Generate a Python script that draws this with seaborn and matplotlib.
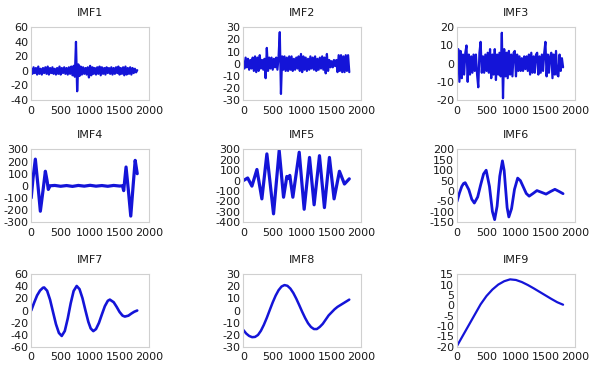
import numpy as np
import matplotlib
matplotlib.use("Agg")
import matplotlib.pyplot as plt
import seaborn as sns

# noisy IMFs, one value every 20 samples (0..1800)
noise_step = 20
imf1 = [3, -4, 5, -3, 4, -5, 6, -4, 3, -5,
        4, -3, 5, -4, 6, -5, 4, -3, 5, -4,
        3, -5, 4, -4, 6, -5, 4, -3, 5, -4,
        4, -5, 5, -4, 6, -6, 7, -8, 40, -28,
        9, -7, 6, -5, 5, -4, 4, -5, 5, -9,
        7, -6, 5, -4, 4, -5, 5, -4, 6, -6,
        5, -4, 4, -5, 5, -3, 4, -4, 5, -5,
        4, -4, 5, -3, 6, -5, 4, -4, 5, -6,
        6, -5, 4, -4, 5, -5, 4, -3, 3, -2, 1]
imf2 = [2, -4, 5, -3, 4, -5, 3, -4, 5, -6,
        6, -7, 5, -6, 7, -4, 3, -5, 4, -12,
        13, -6, 5, -4, 5, -5, 4, -3, 5, -5,
        6, 26, -25, 6, -5, 6, -6, 5, -6, 6,
        -5, 6, -6, 4, -5, 5, -4, 6, -6, 8,
        -7, 6, -5, 5, -6, 4, -5, 6, -4, 5,
        -5, 6, -6, 4, -5, 5, -4, 6, -5, 5,
        -8, 8, -6, 3, -3, 2, -3, 3, -2, 3,
        -7, 7, -6, 7, -7, 6, -7, 7, -6, 7, -7]
imf3 = [2, 8, -10, 7, -8, 5, -6, 6, 10, -10,
        5, -6, 4, -5, 5, -4, 5, -6, -13, 6,
        12, -5, 4, -5, 5, -4, 6, -5, 8, -8,
        5, -6, 8, -9, 5, -6, 6, -7, 17, -19,
        8, -7, 6, -8, 7, -6, 5, -7, 6, 7,
        -7, 5, -4, 4, -4, 3, -4, 4, -3, 4,
        -4, 5, -6, 6, -5, 4, -5, 5, 6, -6,
        4, -5, 5, -4, 6, 12, -7, 5, -5, 4,
        6, -8, 5, -6, 7, -6, -7, 5, -4, 3, -2]

imf4_x = [0, 30, 70, 115, 155, 200, 240, 270, 290, 320, 400, 500, 600, 700, 800,
          900, 1000, 1100, 1200, 1300, 1400, 1500, 1550, 1570, 1610, 1650, 1690,
          1730, 1765, 1800]
imf4 = [-100, 60, 220, 0, -210, -40, 120, 40, -30, 0, 3, -4, 2, -5, 3,
        -3, 4, -3, 2, -4, 3, -2, 0, -40, 155, -40, -250, 0, 210, 100]

imf5_x = [0, 75, 147, 232, 316, 401, 514, 610, 684, 740, 765, 790, 842, 950,
          1034, 1125, 1203, 1294, 1378, 1463, 1542, 1633, 1718, 1800]
imf5 = [0, 25, -53, 107, -176, 257, -320, 290, -160, 40, 20, 50, -160, 273,
        -276, 223, -233, 240, -260, 223, -176, 90, -33, 17]

imf6_x = [0, 40, 80, 110, 138, 200, 250, 293, 350, 400, 450, 494, 550, 600, 638,
          680, 725, 770, 800, 825, 850, 879, 925, 975, 1029, 1075, 1125, 1175,
          1224, 1290, 1356, 1430, 1511, 1585, 1661, 1730, 1800]
imf6 = [-50, -10, 22, 36, 40, 6, -40, -58, -29, 29, 82, 100, 22, -99, -138,
        -73, 71, 145, 98, 8, -80, -125, -85, 8, 62, 50, 19, -12,
        -25, -12, 2, -6, -15, -3, 8, -2, -13]

imf7_x = [0, 50, 100, 150, 200, 220, 270, 320, 370, 420, 470, 518, 570, 620, 670,
          720, 772, 820, 870, 920, 970, 1010, 1054, 1100, 1150, 1200, 1250, 1300,
          1335, 1400, 1450, 1500, 1550, 1589, 1650, 1700, 1750, 1800]
imf7 = [0, 13, 25, 33, 37.6, 38, 32.6, 17.8, -2.4, -22.5, -37, -42, -33.8, -13.3, 11.8,
        32.2, 40.5, 35.3, 20.4, 0.4, -18.8, -29.6, -34, -30.6, -20.4, -6.4, 7.1, 16,
        18, 13.7, 6.1, -2.4, -8.4, -10, -8.5, -5, -2, 0]

# one value every 50 samples
imf8 = [-16, -19, -21, -22, -21.8, -20.2, -16.7, -11.8, -6, 0.4,
        6.7, 12.3, 16.8, 19.8, 21, 20.4, 18.1, 14.5, 9.8, 4.5,
        -1, -6.1, -10.5, -13.6, -15.3, -15.3, -13.5, -11, -7.5, -4,
        -1.5, 1, 3, 4.5, 6, 7.5, 9]
# one value every 100 samples
imf9 = [-19.5, -14.5, -9.5, -4.5, 0.5, 4.5, 7.6, 10, 11.6, 12.5,
        12.2, 11.2, 9.8, 8.2, 6.5, 4.8, 3.1, 1.5, 0.3]

titles = ["IMF1", "IMF2", "IMF3", "IMF4", "IMF5", "IMF6", "IMF7", "IMF8", "IMF9"]
y_limits = [(-40, 60), (-30, 30), (-20, 20), (-300, 300), (-400, 300),
            (-150, 200), (-60, 60), (-30, 30), (-20, 15)]
y_steps = [20, 10, 10, 100, 100, 50, 20, 10, 5]
x_ticks = [0, 500, 1000, 1500, 2000]
line_widths = [1.6, 1.6, 1.6, 2.3, 2.3, 2.0, 1.9, 1.8, 1.6]

series = [
    (np.arange(len(imf1)) * noise_step, imf1),
    (np.arange(len(imf2)) * noise_step, imf2),
    (np.arange(len(imf3)) * noise_step, imf3),
    (imf4_x, imf4),
    (imf5_x, imf5),
    (imf6_x, imf6),
    (imf7_x, imf7),
    (np.arange(len(imf8)) * 50, imf8),
    (np.arange(len(imf9)) * 100, imf9),
]

sns.set_style("white", {"axes.edgecolor": "#d0d0d0"})
plt.rcParams["font.family"] = ["DejaVu Sans"]
plt.rcParams["axes.unicode_minus"] = False

fig = plt.figure(figsize=(5.89, 3.69), dpi=100)
lefts = [0.053, 0.413, 0.776]
bottoms = [0.729, 0.398, 0.060]
w, h = 0.200, 0.197

for i, (xs, ys) in enumerate(series):
    r, c = divmod(i, 3)
    ax = fig.add_axes([lefts[c], bottoms[r], w, h])
    sns.lineplot(x=xs, y=ys, ax=ax, color="#1414d8", linewidth=line_widths[i],
                 estimator=None, sort=False)
    lo, hi = y_limits[i]
    ax.set_xlim(0, 2000)
    ax.set_ylim(lo, hi)
    ax.set_xticks(x_ticks)
    ax.set_yticks(np.arange(lo, hi + 1, y_steps[i]))
    ax.tick_params(axis="y", length=0, labelsize=8, pad=2, colors="#1a1a1a")
    ax.tick_params(axis="x", length=0, labelsize=8, pad=4, colors="#1a1a1a")
    ax.set_title(titles[i], fontsize=8, pad=8, color="#1a1a1a")
    for s in ax.spines.values():
        s.set_linewidth(0.8)

fig.savefig("out.png", dpi=100)
